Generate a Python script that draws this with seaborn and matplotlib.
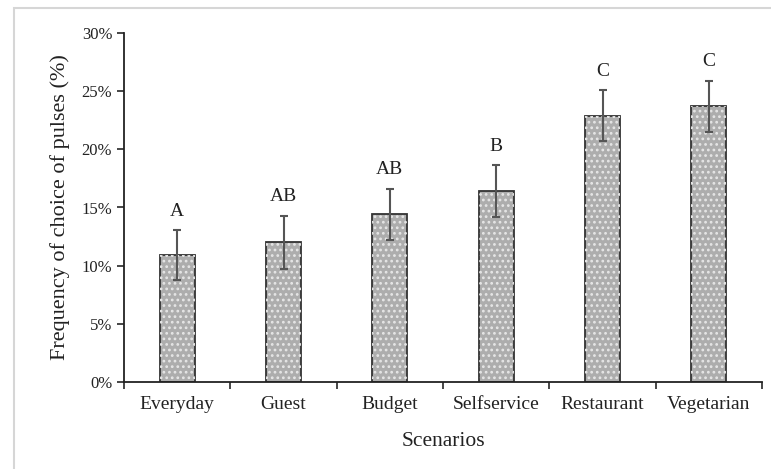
import matplotlib.pyplot as plt
import matplotlib as mpl
import numpy as np
import pandas as pd
import seaborn as sns
from matplotlib.ticker import PercentFormatter, FixedLocator

scenarios = ['Everyday', 'Guest', 'Budget', 'Selfservice', 'Restaurant', 'Vegetarian']
freq = [10.9, 12.0, 14.4, 16.4, 22.9, 23.7]
err = [2.15, 2.3, 2.2, 2.25, 2.2, 2.2]
letters = ['A', 'AB', 'AB', 'B', 'C', 'C']

sns.set_style('white')
plt.rcParams['font.family'] = ['Liberation Serif', 'DejaVu Serif']
plt.rcParams['hatch.linewidth'] = 1.2

df = pd.DataFrame({'scenario': scenarios, 'freq': freq})

fig = plt.figure(figsize=(7.71, 4.69), dpi=100)
ax = fig.add_axes([124 / 771, 1 - 382 / 469, (762 - 124) / 771, (382 - 33) / 469])

# light frame round the chart area (runs off the right and bottom edges)
fig.patches.append(mpl.patches.Rectangle((14 / 771, -0.05), 1, 1.05 - 8 / 469, transform=fig.transFigure,
                                         fill=False, edgecolor='#d6d6d6', linewidth=1.5))

sns.barplot(data=df, x='scenario', y='freq', color='#adadad', errorbar=None,
            width=0.33, edgecolor='#333333', linewidth=1.3, saturation=1, ax=ax)

# dotted texture on the bars
for p in list(ax.patches):
    ax.add_patch(mpl.patches.Rectangle(p.get_xy(), p.get_width(), p.get_height(),
                                       fill=False, hatch='...', edgecolor='#e6e6e6',
                                       linewidth=0, zorder=p.get_zorder() + 0.1))

x = np.arange(len(scenarios))
ax.errorbar(x, freq, yerr=err, fmt='none', ecolor='#555555', elinewidth=1.5,
            capsize=3, capthick=1.5, zorder=5)

for xi, v, e, t in zip(x, freq, err, letters):
    ax.text(xi, v + e + 0.9, t, ha='center', va='bottom', fontsize=14, color='#222222')

ax.set_xlim(-0.5, len(scenarios) - 0.5)
ax.set_ylim(0, 30)
ax.set_yticks(np.arange(0, 31, 5))
ax.yaxis.set_major_formatter(PercentFormatter(100, decimals=0))
ax.xaxis.set_minor_locator(FixedLocator(np.arange(-0.5, len(scenarios), 1)))
ax.tick_params(axis='x', which='major', length=0, pad=10, labelsize=14, labelcolor='#222222')
ax.tick_params(axis='x', which='minor', length=5, width=1.2, direction='out', bottom=True)
ax.tick_params(axis='y', length=5, width=1.2, direction='out', left=True, labelsize=12,
               labelcolor='#222222')

sns.despine(ax=ax)
for s in ['left', 'bottom']:
    ax.spines[s].set_color('#222222')
    ax.spines[s].set_linewidth(1.3)

ax.set_xlabel('Scenarios', fontsize=15.5, color='#222222', labelpad=14)
ax.set_ylabel('Frequency of choice of pulses (%)', fontsize=16, color='#222222', labelpad=8)

fig.savefig('out.png', dpi=100)
